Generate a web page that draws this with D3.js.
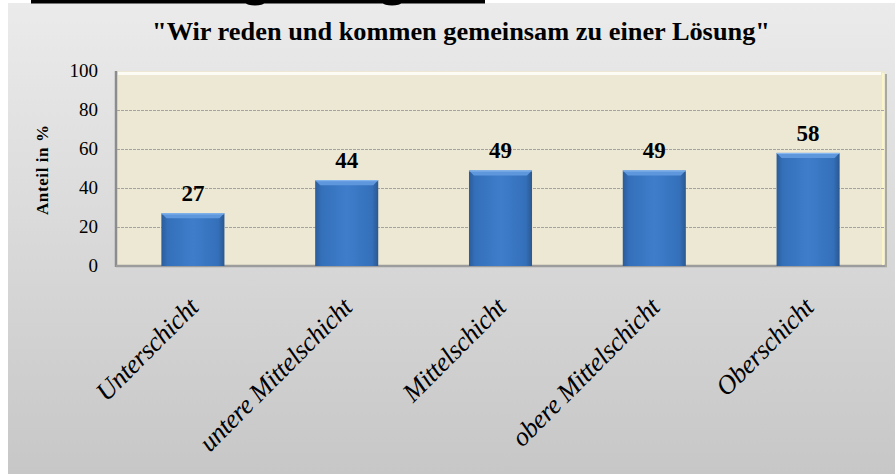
<!DOCTYPE html>
<html lang="de">
<head>
<meta charset="utf-8" />
<title>Wir reden und kommen gemeinsam zu einer Lösung</title>
<script src="https://cdn.jsdelivr.net/npm/d3@7"></script>
<style>
  body { margin: 0; background: #fff; }
  svg { display: block; }
</style>
</head>
<body>
<div id="chart"></div>
<script>
// data
const categories = ["Unterschicht", "untere Mittelschicht", "Mittelschicht", "obere Mittelschicht", "Oberschicht"];
const values = [27, 44, 49, 49, 58];
const yTicks = [0, 20, 40, 60, 80, 100];
const title = "\"Wir reden und kommen gemeinsam zu einer Lösung\"";
const yLabel = "Anteil in %";

const W = 895, H = 474;
const serif = "'Liberation Serif', 'Times New Roman', serif";
const plot = { left: 116, right: 885, top: 71, bottom: 266 };

const svg = d3.select("#chart").append("svg").attr("width", W).attr("height", H);
const defs = svg.append("defs");

const bg = defs.append("linearGradient").attr("id", "bg").attr("x1", 0).attr("y1", 0).attr("x2", 0).attr("y2", 1);
bg.append("stop").attr("offset", "0%").attr("stop-color", "#ebebeb");
bg.append("stop").attr("offset", "100%").attr("stop-color", "#c7c7c7");

const barGrad = defs.append("linearGradient").attr("id", "barGrad").attr("x1", 0).attr("y1", 0).attr("x2", 1).attr("y2", 0);
barGrad.append("stop").attr("offset", "0%").attr("stop-color", "#2b5c9a");
barGrad.append("stop").attr("offset", "10%").attr("stop-color", "#3470ba");
barGrad.append("stop").attr("offset", "50%").attr("stop-color", "#3f7dcb");
barGrad.append("stop").attr("offset", "90%").attr("stop-color", "#3470ba");
barGrad.append("stop").attr("offset", "100%").attr("stop-color", "#2a5890");

// chart background
svg.append("rect").attr("x", 8).attr("y", 3).attr("width", W - 8).attr("height", H - 3).attr("fill", "url(#bg)");

// clipped heading above the chart (only the bottom edge is visible)
svg.append("rect").attr("x", 31).attr("y", 0).attr("width", 454).attr("height", 3.5).attr("fill", "#000");
svg.append("ellipse").attr("cx", 255).attr("cy", 3).attr("rx", 9).attr("ry", 2.4).attr("fill", "#000");
svg.append("ellipse").attr("cx", 392).attr("cy", 3).attr("rx", 9).attr("ry", 2.4).attr("fill", "#000");

const x = d3.scaleBand().domain(categories).range([plot.left, plot.right]).paddingInner(0.59).paddingOuter(0.295);
const y = d3.scaleLinear().domain([0, 100]).range([plot.bottom, plot.top]);

// plot area
svg.append("rect")
  .attr("x", plot.left).attr("y", plot.top)
  .attr("width", plot.right - plot.left).attr("height", plot.bottom - plot.top)
  .attr("fill", "#ede8d3");
svg.append("rect").attr("x", plot.left + 2).attr("y", plot.top + 1)
  .attr("width", plot.right - plot.left - 6).attr("height", 3).attr("fill", "#fdfcf4");
svg.append("line").attr("x1", plot.left).attr("x2", plot.left).attr("y1", plot.top).attr("y2", plot.bottom + 1)
  .attr("stroke", "#8c8c8c").attr("stroke-width", 2.5);
svg.append("line").attr("x1", plot.left).attr("x2", plot.right + 2).attr("y1", plot.bottom).attr("y2", plot.bottom)
  .attr("stroke", "#9c9c9c").attr("stroke-width", 2.5);
svg.append("line").attr("x1", plot.right - 2).attr("x2", plot.right - 2).attr("y1", plot.top + 2).attr("y2", plot.bottom - 1)
  .attr("stroke", "#fbf6c8").attr("stroke-width", 2);
svg.append("line").attr("x1", plot.right + 1).attr("x2", plot.right + 1).attr("y1", plot.top + 3).attr("y2", plot.bottom + 1)
  .attr("stroke", "#a9a9a0").attr("stroke-width", 2);

// gridlines
svg.append("g").selectAll("line").data(yTicks.filter(d => d > 0 && d < 100)).join("line")
  .attr("x1", plot.left + 1).attr("x2", plot.right - 1)
  .attr("y1", d => y(d) + 0.5).attr("y2", d => y(d) + 0.5)
  .attr("stroke", "#a3a3a0").attr("stroke-width", 1).attr("stroke-dasharray", "3,1");

// y axis tick labels
svg.append("g").selectAll("text").data(yTicks).join("text")
  .attr("x", 98).attr("y", d => y(d) + 6)
  .attr("text-anchor", "end")
  .attr("font-family", serif).attr("font-size", 19).attr("fill", "#000")
  .text(d => d);

// y axis title
svg.append("text")
  .attr("transform", "translate(48,170) rotate(-90)")
  .attr("text-anchor", "middle")
  .attr("font-family", serif).attr("font-size", 17).attr("font-weight", "bold")
  .attr("textLength", 90).attr("lengthAdjust", "spacing")
  .text(yLabel);

// bars
const bars = svg.append("g").selectAll("g").data(values).join("g");
const bw = x.bandwidth();
const bev = 5;
bars.append("rect")
  .attr("x", (d, i) => x(categories[i])).attr("y", d => y(d))
  .attr("width", bw).attr("height", d => plot.bottom - y(d))
  .attr("fill", "url(#barGrad)");
bars.append("polygon")
  .attr("points", (d, i) => {
    const x0 = x(categories[i]), top = y(d);
    return [[x0, top], [x0 + bw, top], [x0 + bw - bev, top + bev], [x0 + bev, top + bev]].join(" ");
  })
  .attr("fill", "#5f97dc");
bars.append("line")
  .attr("x1", (d, i) => x(categories[i])).attr("x2", (d, i) => x(categories[i]) + bw)
  .attr("y1", d => y(d) + 0.5).attr("y2", d => y(d) + 0.5)
  .attr("stroke", "#8cbcf2").attr("stroke-width", 1);

// value labels
svg.append("g").selectAll("text").data(values).join("text")
  .attr("x", (d, i) => x(categories[i]) + bw / 2)
  .attr("y", d => y(d) - 12)
  .attr("text-anchor", "middle")
  .attr("font-family", serif).attr("font-size", 23).attr("font-weight", "bold")
  .text(d => d);

// category labels
svg.append("g").selectAll("text").data(categories).join("text")
  .attr("transform", d => `translate(${x(d) + bw / 2 + 7},${309}) rotate(-45)`)
  .attr("text-anchor", "end")
  .attr("font-family", serif).attr("font-size", 26.5).attr("font-style", "italic")
  .attr("letter-spacing", -0.4)
  .text(d => d);

// title
svg.append("text")
  .attr("x", 461).attr("y", 40)
  .attr("text-anchor", "middle")
  .attr("font-family", serif).attr("font-size", 25).attr("font-weight", "bold")
  .attr("textLength", 618).attr("lengthAdjust", "spacingAndGlyphs")
  .text(title);
</script>
</body>
</html>
